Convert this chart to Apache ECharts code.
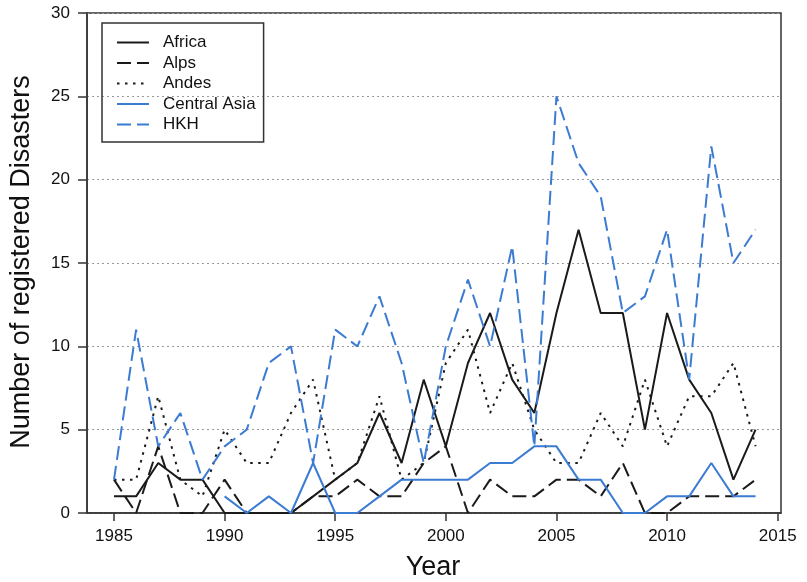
<!DOCTYPE html>
<html>
<head>
<meta charset="utf-8">
<script src="https://cdn.jsdelivr.net/npm/echarts@6/dist/echarts.min.js"></script>
<style>html,body{margin:0;padding:0;background:#fff}#c{width:807px;height:582px}</style>
</head>
<body>
<div id="c"></div>
<script>
const years = [1985,1986,1987,1988,1989,1990,1991,1992,1993,1994,1995,1996,1997,1998,1999,2000,2001,2002,2003,2004,2005,2006,2007,2008,2009,2010,2011,2012,2013,2014];
const africa = [1,1,3,2,2,0,0,0,0,1,2,3,6,3,8,4,9,12,8,6,12,17,12,12,5,12,8,6,2,5];
const alps = [2,0,4,0,0,2,0,0,0,1,1,2,1,1,3,4,0,2,1,1,2,2,1,3,0,0,1,1,1,2];
const andes = [2,2,7,2,1,5,3,3,6,8,2,3,7,2,3,9,11,6,9,5,3,3,6,4,8,4,7,7,9,4];
const centralAsia = [null,null,null,null,null,1,0,1,0,3,0,0,1,2,2,2,2,3,3,4,4,2,2,0,0,1,1,3,1,1];
const hkh = [2,11,4,6,2,4,5,9,10,3,11,10,13,9,3,10,14,10,16,4,25,21,19,12,13,17,8,22,15,17];
const xTicks = [1985,1990,1995,2000,2005,2010,2015];
const seriesNames = ['Africa','Alps','Andes','Central Asia','HKH'];

const FONT = '"Liberation Sans", Arial, sans-serif';
const BLACK = '#1a1a1a', BLUE = '#3b7bd2';

function pairs(vals){ return years.map((y,i)=>[y, vals[i]]).filter(p=>p[1]!==null); }

const styles = [
  {color:BLACK, type:'solid'},
  {color:BLACK, type:[14,6]},
  {color:BLACK, type:[2.5,5.5]},
  {color:BLUE, type:'solid'},
  {color:BLUE, type:[14,6]}
];
const data = [africa, alps, andes, centralAsia, hkh];

const chart = echarts.init(document.getElementById('c'), null, {renderer:'canvas'});
chart.setOption({
  animation:false,
  textStyle:{fontFamily:FONT},
  grid:{left:87, right:26, top:13, bottom:69, show:true, borderColor:'#333', borderWidth:1.5, backgroundColor:'transparent'},
  legend:{
    orient:'vertical', left:102, top:23,
    data: seriesNames,
    itemWidth:32, itemHeight:14, itemGap:3.5,
    padding:[11,8,9,14],
    borderColor:'#333', borderWidth:1.5, borderRadius:0,
    itemStyle:{opacity:0},
    textStyle:{fontFamily:FONT, fontSize:17, color:'#111', padding:[0,0,0,9]}
  },
  xAxis:{
    type:'value', min:1983.78, max:2015.15,
    axisLine:{show:true, onZero:false, lineStyle:{color:'#333', width:1.5}},
    axisTick:{show:true, length:8, inside:false, customValues:xTicks, lineStyle:{color:'#333', width:1.5}},
    axisLabel:{customValues:xTicks, fontSize:17, color:'#111', margin:15, fontFamily:FONT, formatter:v=>String(v)},
    splitLine:{show:false}
  },
  yAxis:{
    type:'value', min:0, max:30, interval:5,
    axisLine:{show:true, lineStyle:{color:'#333', width:1.5}},
    axisTick:{show:true, length:9, lineStyle:{color:'#333', width:1.5}},
    axisLabel:{fontSize:17, color:'#111', margin:17, fontFamily:FONT},
    splitLine:{show:true, lineStyle:{color:'#9a9a9a', width:1, type:[2,3]}}
  },
  graphic:[
    {type:'text', x:22, y:262, rotation:Math.PI/2,
     style:{text:'Number of registered Disasters', font:'27px '+FONT, fill:'#111', textAlign:'center', textVerticalAlign:'middle'}},
    {type:'text', x:433, y:568,
     style:{text:'Year', font:'27px '+FONT, fill:'#111', textAlign:'center', textVerticalAlign:'middle'}}
  ],
  series: seriesNames.map((n,i)=>({
    name:n, type:'line', data:pairs(data[i]), symbol:'none', showSymbol:false,
    lineStyle:{color:styles[i].color, width:2, type:styles[i].type},
    itemStyle:{color:styles[i].color},
    connectNulls:false, z:2+i
  }))
});
</script>
</body>
</html>
